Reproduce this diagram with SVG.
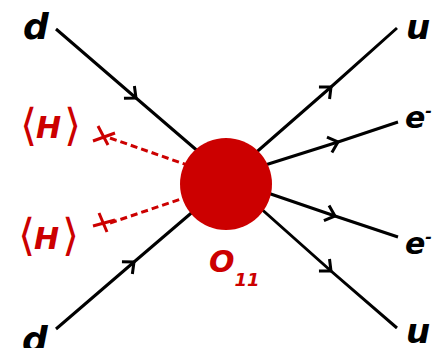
<svg xmlns="http://www.w3.org/2000/svg" width="446" height="348" viewBox="0 0 446 348">
<style>
.f{fill:none;stroke:#000;stroke-width:3;marker-mid:url(#chev)}
.h{fill:none;stroke:#cc0000;stroke-width:3;stroke-dasharray:7,4}
.x{fill:none;stroke:#cc0000;stroke-width:3}
.lb{font-family:"DejaVu Sans",sans-serif;font-weight:bold;font-style:italic;fill:#000}
.rd{font-family:"DejaVu Sans",sans-serif;fill:#cc0000}
.br{font-size:44px}
.hh{font-size:30px;font-weight:bold;font-style:italic}
</style>
<defs>
<marker id="chev" markerUnits="userSpaceOnUse" markerWidth="20" markerHeight="20" refX="10" refY="10" orient="auto" overflow="visible">
<path d="M1,2 L10,10 L1,18" fill="none" stroke="#000" stroke-width="3"/>
</marker>
</defs>
<g id="connectors">
<path class="f" d="M56,29 L136,98 L200,153"/>
<path class="f" d="M56,329 L134,262 L196,209"/>
<path class="f" d="M252,156 L331,87 L397,28"/>
<path class="f" d="M262,166 L338,142 L398,122"/>
<path class="f" d="M262,191 L335,216 L398,237"/>
<path class="f" d="M258,206 L331,271 L397,328"/>
<path class="h" d="M110,138 L190,166"/>
<path class="h" d="M110,223 L190,196"/>
</g>
<g id="vertex">
<circle cx="226" cy="184" r="46" fill="#cc0000"/>
<text class="rd" x="209" y="272" font-size="30" font-weight="bold" font-style="italic">O<tspan font-size="18" dy="14">11</tspan></text>
</g>
<g id="higgs1">
<path class="x" d="M93,141 L115,133 M98,126 L108,145"/>
<text class="rd" y="140"><tspan class="br" x="20">⟨</tspan><tspan class="hh" x="36" dy="-2">H</tspan><tspan class="br" x="64" dy="2">⟩</tspan></text>
</g>
<g id="higgs2">
<path class="x" d="M93,226 L115,220 M99,213 L107,232"/>
<text class="rd" y="250"><tspan class="br" x="18">⟨</tspan><tspan class="hh" x="34" dy="-1">H</tspan><tspan class="br" x="62" dy="1">⟩</tspan></text>
</g>
<g id="d1"><text class="lb" x="23" y="39" font-size="36">d</text></g>
<g id="d2"><text class="lb" x="22" y="352" font-size="36">d</text></g>
<g id="u1"><text class="lb" x="406" y="39" font-size="34">u</text></g>
<g id="u2"><text class="lb" x="406" y="343" font-size="34">u</text></g>
<g id="e1"><text class="lb" x="405" y="128" font-size="30" font-style="normal">e<tspan font-size="16" dy="-12">-</tspan></text></g>
<g id="e2"><text class="lb" x="405" y="254" font-size="30" font-style="normal">e<tspan font-size="16" dy="-12">-</tspan></text></g>
</svg>
